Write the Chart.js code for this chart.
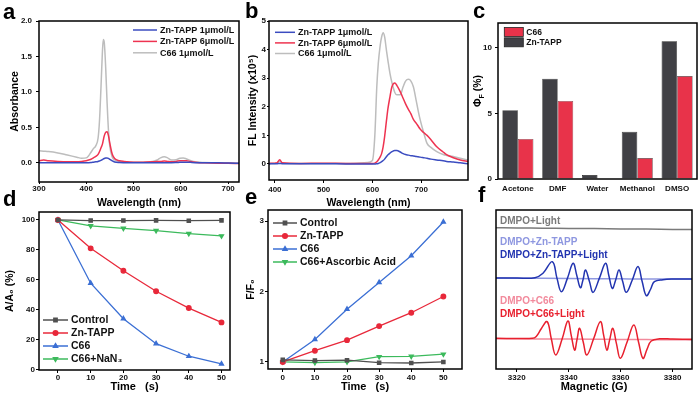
<!DOCTYPE html>
<html>
<head>
<meta charset="utf-8">
<script src="https://cdn.jsdelivr.net/npm/chart.js@4.4.1/dist/chart.umd.min.js"></script>
<style>
  html, body { margin: 0; padding: 0; background: #fff; }
  #fig { position: relative; width: 700px; height: 398px; overflow: hidden;
         font-family: "Liberation Sans", Arial, sans-serif; }
  #fig canvas { position: absolute; }
  .tag { position: absolute; font-weight: bold; font-size: 22px; line-height: 22px; color: #000; }
</style>
</head>
<body>
<div id="fig">
  <canvas id="chartA" width="242" height="212" style="left:0;top:0"></canvas>
  <canvas id="chartB" width="230" height="212" style="left:242px;top:0"></canvas>
  <canvas id="chartC" width="228" height="200" style="left:472px;top:0"></canvas>
  <canvas id="chartD" width="240" height="198" style="left:0;top:200px"></canvas>
  <canvas id="chartE" width="230" height="198" style="left:240px;top:200px"></canvas>
  <canvas id="chartF" width="230" height="198" style="left:470px;top:200px"></canvas>
  <div class="tag" style="left:3px;top:1px">a</div>
  <div class="tag" style="left:245px;top:0px">b</div>
  <div class="tag" style="left:473px;top:0px">c</div>
  <div class="tag" style="left:3px;top:188px">d</div>
  <div class="tag" style="left:245px;top:186px">e</div>
  <div class="tag" style="left:478px;top:184px">f</div>
</div>
<script>
// ---- a: UV-vis absorbance ----
const absWavelength = [300, 310, 320, 340, 360, 380, 390, 400, 405, 410, 415, 420, 425, 428, 431, 434, 436, 438, 441, 444, 447, 450, 455, 460, 470, 480, 500, 520, 540, 550, 557, 565, 572, 580, 590, 598, 605, 612, 620, 630, 650, 680, 700, 723];
const absZn1 = [0, 0, 0, 0, 0, 0, 0, 0, 0.002, 0.005, 0.01, 0.015, 0.02, 0.027, 0.035, 0.045, 0.055, 0.062, 0.068, 0.07, 0.062, 0.048, 0.027, 0.013, 0.005, 0.002, 0, 0, 0, 0, 0, 0.002, 0.002, 0.002, 0.004, 0.007, 0.009, 0.01, 0.007, 0.003, 0, 0, -0.003, -0.005];
const absZn6 = [0.03, 0.04, 0.03, 0.02, 0.015, 0.015, 0.02, 0.03, 0.04, 0.05, 0.07, 0.09, 0.12, 0.16, 0.21, 0.26, 0.32, 0.38, 0.43, 0.44, 0.38, 0.27, 0.12, 0.06, 0.03, 0.02, 0.01, 0.01, 0.015, 0.02, 0.02, 0.025, 0.02, 0.015, 0.02, 0.03, 0.03, 0.03, 0.02, 0.01, 0, -0.005, -0.005, -0.01];
const absC66 = [0.17, 0.165, 0.16, 0.14, 0.11, 0.08, 0.065, 0.07, 0.1, 0.15, 0.2, 0.24, 0.35, 0.6, 1.05, 1.55, 1.74, 1.7, 1.35, 0.85, 0.45, 0.22, 0.08, 0.04, 0.02, 0.01, 0.01, 0.01, 0.02, 0.04, 0.07, 0.085, 0.07, 0.04, 0.045, 0.065, 0.07, 0.055, 0.035, 0.015, 0.005, 0, 0, -0.005];
const absTicksX = [300, 400, 500, 600, 700];
const absTicksY = [0, 0.5, 1.0, 1.5, 2.0];

// ---- b: fluorescence emission ----
const flWavelength = [388, 400, 405, 410, 415, 450, 500, 550, 590, 600, 605, 609, 612, 616, 619, 622, 625, 629, 632, 636, 640, 646, 650, 657, 663, 668, 674, 679, 684, 690, 694, 698, 705, 712, 720, 732, 745, 752, 766, 780, 796];
const flZn1 = [0, 0.01, 0.01, 0.02, 0.01, 0.01, 0.01, 0, 0, 0, 0, 0.01, 0.02, 0.05, 0.08, 0.12, 0.17, 0.26, 0.32, 0.38, 0.43, 0.47, 0.47, 0.42, 0.36, 0.33, 0.31, 0.29, 0.28, 0.26, 0.25, 0.24, 0.22, 0.2, 0.17, 0.14, 0.11, 0.09, 0.07, 0.04, 0.01];
const flZn6 = [0.02, 0.03, 0.05, 0.15, 0.04, 0.02, 0.03, 0.02, 0.02, 0.02, 0.03, 0.08, 0.14, 0.25, 0.37, 0.6, 0.95, 1.54, 1.95, 2.35, 2.7, 2.83, 2.75, 2.53, 2.3, 2.1, 1.9, 1.75, 1.56, 1.42, 1.32, 1.22, 1.1, 1.0, 0.85, 0.6, 0.42, 0.33, 0.22, 0.14, 0.09];
const flC66 = [0.02, 0.02, 0.03, 0.1, 0.03, 0.02, 0.02, 0.02, 0.05, 0.12, 1.0, 2.7, 3.5, 4.15, 4.45, 4.59, 4.45, 3.95, 3.6, 3.17, 2.85, 2.5, 2.42, 2.42, 2.7, 2.9, 2.96, 2.9, 2.7, 2.2, 1.85, 1.54, 1.1, 0.72, 0.58, 0.43, 0.33, 0.3, 0.26, 0.2, 0.14];
const flTicksX = [400, 500, 600, 700];
const flTicksY = [0, 1, 2, 3, 4, 5];

// ---- c: quantum yield by solvent ----
const solvents = ['Acetone', 'DMF', 'Water', 'Methanol', 'DMSO'];
const qyZnTapp = [5.25, 7.65, 0.3, 3.6, 10.5];
const qyC66 = [3.05, 5.95, 0, 1.6, 7.85];
const qyTicksY = [0, 5, 10];

// ---- d, e: time courses ----
const times = [0, 10, 20, 30, 40, 50];
const dControl = [100, 99.6, 99.6, 99.7, 99.5, 99.7];
const dZnTapp = [100, 81, 66, 52.3, 41.1, 31.5];
const dC66 = [100, 57.7, 34, 17.3, 8.9, 3.8];
const dC66Azide = [100, 96, 94.4, 92.9, 90.9, 89.3];
const dTicksY = [0, 20, 40, 60, 80, 100];
const eControl = [1.03, 1.02, 1.025, 0.99, 0.985, 1.0];
const eZnTapp = [1.0, 1.16, 1.31, 1.51, 1.70, 1.93];
const eC66 = [1.0, 1.32, 1.75, 2.13, 2.51, 2.99];
const eC66Ascorbic = [1.0, 0.99, 1.0, 1.075, 1.08, 1.11];
const eTicksY = [1, 2, 3];

// ---- f: EPR spectra (offset, arbitrary units) ----
const eprBaseField = [3312, 3320, 3330, 3340, 3350, 3360, 3370, 3380, 3387.5];
const eprDmpoLight = [88.9, 88.7, 88.6, 88.4, 88.3, 88.1, 88.0, 87.8, 87.7];
const eprDmpoZn = [57.2, 57.1, 57.0, 56.9, 56.8, 56.7, 56.6, 56.6, 56.6];
const eprDmpoC66 = [19.1, 19.0, 18.9, 18.8, 18.7, 18.6, 18.5, 18.4, 18.3];
const eprZnField = [3312, 3320, 3327, 3330.1, 3333.7, 3335.5, 3337.2, 3339.5, 3341.7, 3343.1, 3344.5, 3345.5, 3346.5, 3348, 3349.4, 3351.8, 3354.2, 3355.5, 3356.8, 3358.1, 3359.4, 3360.8, 3362.2, 3364.5, 3366.7, 3368.3, 3369.9, 3371.5, 3373, 3376.3, 3380, 3387.5];
const eprZnLight = [57.2, 57.2, 57.4, 60.2, 67.5, 57, 48.6, 57, 66.5, 59, 51.1, 56, 62.3, 55, 48.2, 57, 66.5, 58.5, 50.7, 56, 62.3, 55, 48.2, 56, 64.4, 55, 46.1, 50, 54.9, 56.2, 56.6, 56.6];
const eprC66Field = [3312, 3320, 3326, 3327.5, 3329.5, 3331.7, 3333.3, 3335, 3337.5, 3339.7, 3341, 3342.3, 3343.2, 3344.2, 3345.6, 3347, 3349.6, 3352.2, 3353.5, 3354.7, 3355.8, 3357, 3358.4, 3359.9, 3362.5, 3365.1, 3366.9, 3368.6, 3370.2, 3371.8, 3375, 3380, 3387.5];
const eprC66Light = [19.3, 19.2, 19.3, 20.5, 25.5, 29.8, 19, 8.8, 19, 30.2, 21, 11.9, 18.5, 25.6, 17, 8.8, 19, 29.8, 21, 11.9, 18.5, 25.6, 16, 6.7, 17, 27.7, 17, 6.7, 12.5, 17.6, 19, 18.8, 18.7];
const eprTicksX = [3320, 3340, 3360, 3380];
const eprNames = ['DMPO+Light', 'DMPO+Zn-TAPP', 'DMPO+Zn-TAPP+Light', 'DMPO+C66', 'DMPO+C66+Light'];

const FONT = '"Liberation Sans", Arial, sans-serif';
Chart.defaults.font.family = FONT;
Chart.defaults.font.weight = 'bold';
Chart.defaults.color = '#111';

const BLUE = '#3b4cc0', RED = '#ee3350', GRAY = '#bdbdbd';

const pts = (xs, ys) => xs.map((x, i) => ({ x: x, y: ys[i] }));

// box around the plot area
const frame = {
  id: 'frame',
  afterDatasetsDraw(chart) {
    const { ctx, chartArea: a } = chart;
    ctx.save();
    ctx.strokeStyle = '#000';
    ctx.lineWidth = 1.5;
    ctx.strokeRect(a.left, a.top, a.right - a.left, a.bottom - a.top);
    ctx.restore();
  }
};

// legend drawn inside the plot, one row per dataset
const insideLegend = {
  id: 'insideLegend',
  afterDraw(chart, args, o) {
    if (o.x == null) return;
    const ctx = chart.ctx;
    const sets = chart.data.datasets;
    const order = o.order || sets.map((d, i) => i);
    ctx.save();
    ctx.font = 'bold ' + o.size + 'px ' + FONT;
    ctx.textBaseline = 'middle';
    order.forEach((di, row) => {
      const ds = sets[di];
      const y = o.y + row * o.rowH;
      if (o.box) {
        ctx.fillStyle = ds.backgroundColor;
        ctx.fillRect(o.x, y - o.boxH / 2, o.len, o.boxH);
        ctx.strokeStyle = '#222';
        ctx.lineWidth = 0.8;
        ctx.strokeRect(o.x, y - o.boxH / 2, o.len, o.boxH);
      } else {
        ctx.strokeStyle = ds.borderColor;
        ctx.lineWidth = 1.5;
        ctx.beginPath();
        ctx.moveTo(o.x, y);
        ctx.lineTo(o.x + o.len, y);
        ctx.stroke();
        if (ds.pointRadius) {
          ctx.fillStyle = ds.borderColor;
          Chart.helpers.drawPoint(ctx, { pointStyle: ds.pointStyle, radius: ds.pointRadius, rotation: ds.pointRotation || 0, borderWidth: 1 }, o.x + o.len / 2, y);
        }
      }
      ctx.fillStyle = '#111';
      ctx.fillText(ds.label, o.x + o.len + o.gap, y + 0.5);
    });
    ctx.restore();
  }
};

// free text labels next to the EPR traces, coloured like their trace
const traceLabels = {
  id: 'traceLabels',
  afterDraw(chart, args, o) {
    if (!o.names) return;
    const ctx = chart.ctx;
    ctx.save();
    ctx.font = 'bold ' + o.size + 'px ' + FONT;
    ctx.textBaseline = 'middle';
    o.names.forEach((t, i) => {
      ctx.fillStyle = o.colors[i];
      ctx.fillText(t, o.x, o.ys[i]);
    });
    ctx.restore();
  }
};

// rotated y title with subscript (Φ_F)
const subTitle = {
  id: 'subTitle',
  afterDraw(chart, args, o) {
    if (!o.main) return;
    const ctx = chart.ctx;
    ctx.save();
    ctx.translate(o.x, o.y);
    ctx.rotate(-Math.PI / 2);
    ctx.fillStyle = '#000';
    const big = 'bold 10.5px ' + FONT, small = 'bold 7px ' + FONT;
    ctx.font = big; const w1 = ctx.measureText(o.main).width; const w3 = ctx.measureText(o.rest).width;
    ctx.font = small; const w2 = ctx.measureText(o.sub).width;
    let x = -(w1 + w2 + w3) / 2;
    ctx.font = big; ctx.fillText(o.main, x, 4); x += w1;
    ctx.font = small; ctx.fillText(o.sub, x, 6.5); x += w2;
    ctx.font = big; ctx.fillText(o.rest, x, 4);
    ctx.restore();
  }
};

Chart.register(frame, insideLegend, traceLabels, subTitle);

function axis(o) {
  const cfg = {
    type: o.type || 'linear',
    min: o.min,
    max: o.max,
    afterFit(s) {
      if (o.width != null) s.width = o.width;
      if (o.height != null) s.height = o.height;
    },
    border: { display: false },
    grid: { display: o.tickLen > 0, drawOnChartArea: false, drawTicks: true, tickLength: o.tickLen || 0, color: '#000', lineWidth: 1 },
    ticks: { display: o.labels !== false, font: { size: 8, weight: 'bold' }, color: '#111', padding: o.pad || 0, maxRotation: 0, autoSkip: false },
    title: { display: !!o.title, text: o.title, color: '#000', font: { size: o.titleSize || 10.5, weight: 'bold' }, padding: o.titlePad || 0 }
  };
  if (o.ticks) cfg.afterBuildTicks = s => { s.ticks = o.ticks.map(v => ({ value: v })); };
  cfg.ticks.callback = o.fmt || (v => String(v));
  return cfg;
}

function spectrum(label, xs, ys, color, tension) {
  const ds = { label: label, data: pts(xs, ys), borderColor: color, borderWidth: 1.5, pointRadius: 0, fill: false };
  if (tension) ds.tension = tension; else ds.cubicInterpolationMode = 'monotone';
  return ds;
}

function series(label, ys, color, style, rotation) {
  return { label: label, data: pts(times, ys), borderColor: color, backgroundColor: color, borderWidth: 1.3,
           pointStyle: style, pointRadius: 2.3, pointRotation: rotation || 0, pointBackgroundColor: color, pointBorderColor: color, tension: 0 };
}

const base = { responsive: false, animation: false, devicePixelRatio: 1, events: [] };

// a
new Chart(document.getElementById('chartA'), {
  type: 'line',
  data: { datasets: [
    spectrum('Zn-TAPP 1μmol/L', absWavelength, absZn1, BLUE),
    spectrum('Zn-TAPP 6μmol/L', absWavelength, absZn6, RED),
    spectrum('C66 1μmol/L', absWavelength, absC66, GRAY)
  ] },
  options: Object.assign({}, base, {
    layout: { padding: { top: 21, right: 3, left: 0, bottom: 0 } },
    scales: {
      x: axis({ min: 300, max: 723, ticks: absTicksX, height: 30, tickLen: 2, pad: 0, title: 'Wavelength (nm)', titlePad: { top: 0, bottom: 2.7 } }),
      y: axis({ min: -0.27, max: 2.0, ticks: absTicksY, width: 39, tickLen: 3, pad: 4, fmt: v => v.toFixed(1), title: 'Absorbance', titlePad: { top: 8.7, bottom: 0 } })
    },
    plugins: { legend: { display: false }, tooltip: { enabled: false },
      insideLegend: { x: 133, y: 30, rowH: 11.4, len: 24, gap: 3, size: 9 } }
  })
});

// b
new Chart(document.getElementById('chartB'), {
  type: 'line',
  data: { datasets: [
    spectrum('Zn-TAPP 1μmol/L', flWavelength, flZn1, BLUE),
    spectrum('Zn-TAPP 6μmol/L', flWavelength, flZn6, RED),
    spectrum('C66 1μmol/L', flWavelength, flC66, GRAY)
  ] },
  options: Object.assign({}, base, {
    layout: { padding: { top: 21, right: 4, left: 0, bottom: 0 } },
    scales: {
      x: axis({ min: 388, max: 796, ticks: flTicksX, height: 32, tickLen: 3, pad: 2, title: 'Wavelength (nm)', titlePad: { top: 0, bottom: 2.7 } }),
      y: axis({ min: -0.56, max: 5.0, ticks: flTicksY, width: 27, tickLen: 2, pad: 1, title: 'FL Intensity (x10⁵)', titlePad: { top: 5, bottom: 0 } })
    },
    plugins: { legend: { display: false }, tooltip: { enabled: false },
      insideLegend: { x: 33, y: 32.3, rowH: 10.6, len: 20, gap: 3, size: 9 } }
  })
});

// c
new Chart(document.getElementById('chartC'), {
  type: 'bar',
  data: { labels: solvents, datasets: [
    { label: 'Zn-TAPP', data: qyZnTapp, backgroundColor: '#404045', borderColor: '#222', borderWidth: 0.6, categoryPercentage: 0.78, barPercentage: 1.0 },
    { label: 'C66', data: qyC66, backgroundColor: '#e8334a', borderColor: '#444', borderWidth: 0.6, categoryPercentage: 0.78, barPercentage: 1.0 }
  ] },
  options: Object.assign({}, base, {
    layout: { padding: { top: 23, right: 3, left: 0, bottom: 0 } },
    scales: {
      x: axis({ type: 'category', height: 21, tickLen: 0, pad: 5, fmt: function (v) { return this.getLabelForValue(v); } }),
      y: axis({ min: 0, max: 11.9, ticks: qyTicksY, width: 26, tickLen: 3, pad: 3 })
    },
    plugins: { legend: { display: false }, tooltip: { enabled: false },
      insideLegend: { x: 32.3, y: 32, rowH: 10.3, len: 19, gap: 3, size: 8.5, box: true, boxH: 9, order: [1, 0] },
      subTitle: { x: 5, y: 91, main: 'Φ', sub: 'F', rest: ' (%)' } }
  })
});

// d
new Chart(document.getElementById('chartD'), {
  type: 'line',
  data: { datasets: [
    series('Control', dControl, '#505050', 'rect'),
    series('Zn-TAPP', dZnTapp, '#e8283a', 'circle'),
    series('C66', dC66, '#3b6fd4', 'triangle'),
    series('C66+NaN₃', dC66Azide, '#3cba5c', 'triangle', 180)
  ] },
  options: Object.assign({}, base, {
    layout: { padding: { top: 12, right: 10, left: 0, bottom: 0 } },
    scales: {
      x: axis({ min: -5.8, max: 52.6, ticks: times, height: 28, tickLen: 3, pad: 0, title: 'Time   (s)', titleSize: 11, titlePad: { top: 0, bottom: 4.4 } }),
      y: axis({ min: -0.3, max: 105.3, ticks: dTicksY, width: 39, tickLen: 3, pad: 1, title: 'A/A₀ (%)', titlePad: { top: 3.7, bottom: 0 } })
    },
    plugins: { legend: { display: false }, tooltip: { enabled: false },
      insideLegend: { x: 43, y: 120, rowH: 13, len: 25, gap: 3, size: 10.5 } }
  })
});

// e
new Chart(document.getElementById('chartE'), {
  type: 'line',
  data: { datasets: [
    series('Control', eControl, '#505050', 'rect'),
    series('Zn-TAPP', eZnTapp, '#e8283a', 'circle'),
    series('C66', eC66, '#3b6fd4', 'triangle'),
    series('C66+Ascorbic Acid', eC66Ascorbic, '#3cba5c', 'triangle', 180)
  ] },
  options: Object.assign({}, base, {
    layout: { padding: { top: 10, right: 8, left: 0, bottom: 0 } },
    scales: {
      x: axis({ min: -4.6, max: 55.8, ticks: times, height: 29, tickLen: 3, pad: 1, title: 'Time   (s)', titleSize: 11, titlePad: { top: 0, bottom: 4.4 } }),
      y: axis({ min: 0.9, max: 3.16, ticks: eTicksY, width: 28, tickLen: 3, pad: 1, title: 'F/F₀', titlePad: { top: 4.4, bottom: 0 } })
    },
    plugins: { legend: { display: false }, tooltip: { enabled: false },
      insideLegend: { x: 33, y: 23, rowH: 13, len: 24, gap: 3, size: 10.5 } }
  })
});

// f
const eprColors = ['#7a7a7a', '#8e97e0', '#2234b0', '#f28a9c', '#e8202e'];
new Chart(document.getElementById('chartF'), {
  type: 'line',
  data: { datasets: [
    spectrum(eprNames[2], eprZnField, eprZnLight, eprColors[2], 0.4),
    spectrum(eprNames[4], eprC66Field, eprC66Light, eprColors[4], 0.4),
    spectrum(eprNames[0], eprBaseField, eprDmpoLight, eprColors[0]),
    spectrum(eprNames[1], eprBaseField, eprDmpoZn, eprColors[1]),
    spectrum(eprNames[3], eprBaseField, eprDmpoC66, eprColors[3])
  ] },
  options: Object.assign({}, base, {
    layout: { padding: { top: 10, right: 8, left: 0, bottom: 0 } },
    scales: {
      x: axis({ min: 3312, max: 3387.5, ticks: eprTicksX, height: 29, tickLen: 3, pad: 1, title: 'Magnetic (G)', titleSize: 11, titlePad: { top: 0, bottom: 4.4 } }),
      y: axis({ min: 0, max: 100, ticks: [], width: 26, tickLen: 0, labels: false })
    },
    plugins: { legend: { display: false }, tooltip: { enabled: false },
      traceLabels: { names: eprNames, colors: eprColors, x: 30, ys: [21.7, 42.3, 55.7, 101.7, 114.3], size: 10 } }
  })
});
</script>
</body>
</html>
